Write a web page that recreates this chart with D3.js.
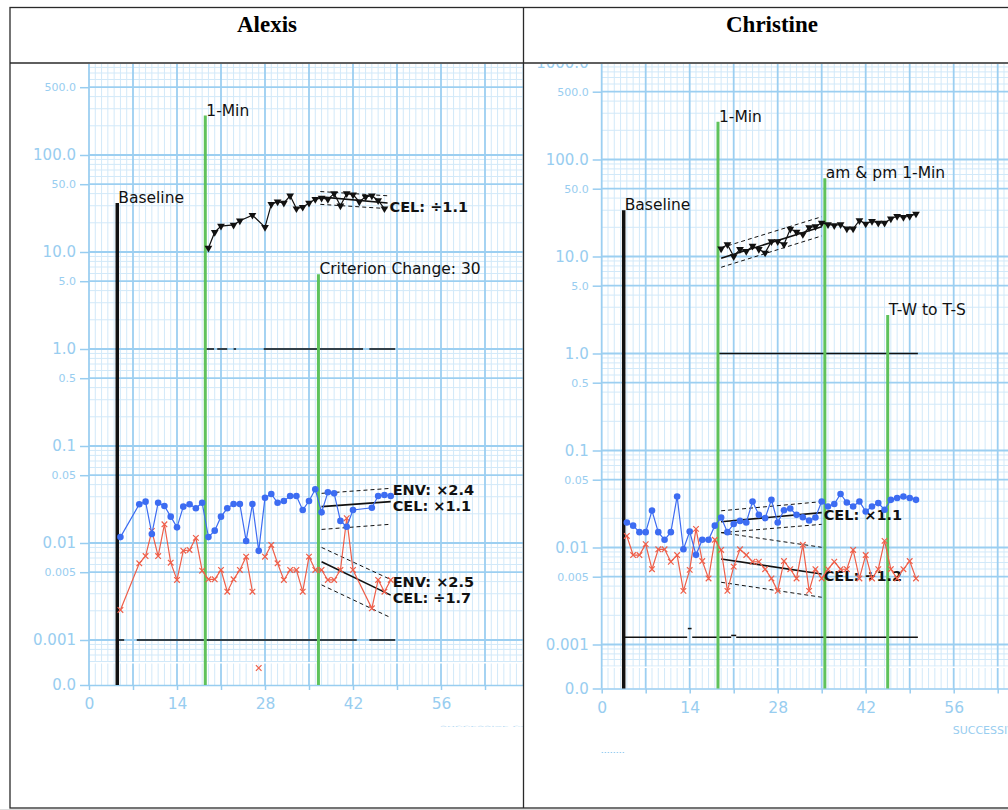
<!DOCTYPE html>
<html><head><meta charset="utf-8">
<script src="https://cdn.jsdelivr.net/npm/d3@7"></script>
<style>body{margin:0;background:#fff}svg{display:block}</style>
</head><body><svg id="c" width="1008" height="810"></svg>
<script>
// ---------------- DATA ----------------
const names = ["Alexis", "Christine"];

const yMajorTicks = [1000, 100, 10, 1, 0.1, 0.01, 0.001];
const yMajorTickLabels = ["1000.0", "100.0", "10.0", "1.0", "0.1", "0.01", "0.001"];
const yHalfTicks = [500, 50, 5, 0.5, 0.05, 0.005];
const yHalfTickLabels = ["500.0", "50.0", "5.0", "0.5", "0.05", "0.005"];
const xTickLabels = [0, 14, 28, 42, 56];
const xAxisTitle = "SUCCESSIVE CALENDAR DAYS";

// Alexis
const alexisPhaseDays = [4.5, 18.5, 36.5];
const alexisPhaseTops = [32, 255, 5.9];
const alexisPhaseLabels = ["Baseline", "1-Min", "Criterion Change: 30"];

const alexisFreqDays = [19,20,21,23,24,26,28,29,30,31,32,33,34,35,36,37,38,39,40,41,42,43,44,45,46,47];
const alexisFreq = [11,16,18.5,19,21,24,18,31,33,32,38,28,29,32,35,36,35,40,30,40,39,33,37,38,34,28];

const alexisDays = [5,8,9,10,11,12,13,14,15,16,17,18,19,20,21,22,23,24,25,26,27,28,29,30,31,32,33,34,35,36,37,38,39,40,41,42,45,46,47,48];
const alexisCorrect = [0.0115,0.0251,0.0267,0.0124,0.0260,0.0241,0.0187,0.0145,0.0237,0.0251,0.0228,0.0260,0.0115,0.0134,0.0187,0.0228,0.0252,0.0252,0.0105,0.0252,0.0083,0.0293,0.0320,0.0260,0.0271,0.0305,0.0305,0.0219,0.0271,0.0358,0.0207,0.0333,0.0325,0.0169,0.0147,0.0219,0.0231,0.0305,0.0313,0.0305];
const alexisErrors = [0.00204,0.00618,0.00734,0.0133,0.00734,0.0156,0.00627,0.00416,0.00833,0.00847,0.0113,0.00518,0.00422,0.00422,0.00527,0.00315,0.00422,0.00527,0.00722,0.00315,0,0.00722,0.00954,0.00618,0.00416,0.00527,0.00527,0.00315,0.00722,0.00527,0.00527,0.00416,0.00416,0.00527,0.0180,0.00527,0.00212,0.00416,0.00315,0.00416];

// record floors: [fromDay, toDay, value]
const alexisFloors = [[18.6,19.9,1],[20.4,22.0,1],[23.0,23.4,1],[27.8,43.6,1],[44.6,48.7,1],
                      [4.6,5.6,0.001],[7.6,42.6,0.001],[44.6,48.7,0.001]];

// celeration lines: days, middle, upper and lower envelope values
const alexisCelDays = [[36.8,47.5],[37,48],[37,48]];
const alexisCelMid = [[37,32],[0.0237,0.0267],[0.0064,0.0029]];
const alexisCelUpper = [[42,38],[0.0325,0.0366],[0.0090,0.0042]];
const alexisCelLower = [[31,28],[0.0138,0.0156],[0.0037,0.0017]];
const alexisCelLabels = [["CEL: ÷1.1"],["ENV: ×2.4","CEL: ×1.1"],["ENV: ×2.5","CEL: ÷1.7"]];
const alexisCelLabelVals = [[29.1],[0.0352,0.0243],[0.00398,0.00272]];

// Christine
const christinePhaseDays = [3.5, 18.5, 35.5, 45.5];
const christinePhaseTops = [30, 245, 64, 2.5];
const christinePhaseLabels = ["Baseline", "1-Min", "am & pm 1-Min", "T-W to T-S"];

const christineFreqDays = d3.range(19, 51);
const christineFreq = [12.0,13.3,10.0,11.9,11.3,12.8,11.9,10.9,14.3,14.3,13.3,19.2,17.9,16.9,19.9,20.4,22.2,21.4,20.9,21.4,19.3,19.3,23.5,21.7,23.1,22.2,22.2,24.5,26.0,25.4,26.0,27.5];

const christineDays = d3.range(4, 51);
const christineCorrect = [0.0181,0.0168,0.0144,0.0144,0.0240,0.0144,0.0120,0.0144,0.0336,0.0096,0.0146,0.0084,0.0120,0.0120,0.0168,0.0204,0.0144,0.0175,0.0188,0.0181,0.0298,0.0217,0.0201,0.0310,0.0181,0.0242,0.0252,0.0217,0.0205,0.0190,0.0204,0.0298,0.0265,0.0281,0.0356,0.0291,0.0265,0.0298,0.0235,0.0265,0.0287,0.0245,0.0310,0.0324,0.0336,0.0324,0.0310];
const christineErrors = [0.01315,0.00836,0.00836,0.01083,0.00597,0.00958,0.00958,0.00713,0.00836,0.00357,0.00588,0.01556,0.00725,0.0048,0.0120,0.00943,0.00357,0.00635,0.00958,0.00836,0.00713,0.00713,0.00597,0.0048,0.00357,0.00725,0.00597,0.0048,0.01066,0.00357,0.00597,0.0048,0.00597,0.00713,0.00597,0.00597,0.00943,0.0048,0.00836,0.0048,0.00597,0.0117,0.00597,0.0048,0.00597,0.00725,0.0048];

const christineFloors = [[18.5,50.3,1],[3.5,13.6,0.00119],[13.7,14.3,0.00146],[14.4,20.6,0.00119],[20.6,21.4,0.00124],[21.4,50.3,0.00119]];

const christineCelDays = [[19,35],[19,35],[19,35]];
const christineCelMid = [[9.6,20.3],[0.01845,0.02286],[0.0076,0.00533]];
const christineCelUpper = [[12.3,25.7],[0.0239,0.0297],[0.01422,0.01005]];
const christineCelLower = [[7.74,16.3],[0.01422,0.01734],[0.00438,0.00307]];
const christineCelLabels = [[],["CEL: ×1.1"],["CEL: ÷1.2"]];
const christineCelLabelVals = [[],[0.0216],[0.00508]];

// ---------------- LAYOUT / STYLE ----------------
const PPD = 88 / 14, DEC = 97;
const C = {
  gridMajor: "#9ccff1", gridMinor: "#d2e9f9", tick: "#98cdf0",
  blue: "#3c6cf2", red: "#ee5f4a", green: "#5fc25b", ink: "#111"
};
const FONT = "'DejaVu Sans', sans-serif";

const charts = [
  { clip: [11, 64, 512, 743], x0: 89, y10: 252, axisY: 685, titleX: 267,
    phaseDays: alexisPhaseDays, phaseTops: alexisPhaseTops, phaseLabels: alexisPhaseLabels,
    freqDays: alexisFreqDays, freq: alexisFreq, days: alexisDays, correct: alexisCorrect, errors: alexisErrors,
    floors: alexisFloors, celDays: alexisCelDays, celMid: alexisCelMid, celUp: alexisCelUpper, celLo: alexisCelLower,
    celLabels: alexisCelLabels, celLabelVals: alexisCelLabelVals, squashTitle: true },
  { clip: [524, 64, 496, 743], x0: 601.7, y10: 256.5, axisY: 688.5, titleX: 772,
    phaseDays: christinePhaseDays, phaseTops: christinePhaseTops, phaseLabels: christinePhaseLabels,
    freqDays: christineFreqDays, freq: christineFreq, days: christineDays, correct: christineCorrect, errors: christineErrors,
    floors: christineFloors, celDays: christineCelDays, celMid: christineCelMid, celUp: christineCelUpper, celLo: christineCelLower,
    celLabels: christineCelLabels, celLabelVals: christineCelLabelVals, squashTitle: false }
];

const svg = d3.select("#c");
const defs = svg.append("defs");
svg.append("rect").attr("width", 1008).attr("height", 810).attr("fill", "#fff");

function drawChart(c, idx) {
  const clipId = "clip" + idx;
  defs.append("clipPath").attr("id", clipId).append("rect")
    .attr("x", c.clip[0]).attr("y", c.clip[1]).attr("width", c.clip[2]).attr("height", c.clip[3]);
  const g = svg.append("g").attr("clip-path", `url(#${clipId})`);

  const x = d3.scaleLinear().domain([0, 70]).range([c.x0, c.x0 + 70 * PPD]);
  const y = d3.scaleLog().domain([0.001, 10]).range([c.y10 + 4 * DEC, c.y10]);
  const yTop = y(1000), yBot = y(0.0006);
  const zeroY = c.axisY - 17;
  const yv = v => v > 0 ? y(v) : zeroY;

  // grid
  const hv = [];
  for (let k = -4; k <= 3; k++) for (let m = 1; m <= 9; m++) {
    const v = +(m * Math.pow(10, k)).toPrecision(3);
    if (v >= 0.0006 - 1e-12 && v <= 1000 + 1e-9) hv.push({ v, major: m === 1 || m === 5 });
  }
  const days = d3.range(0, 71);
  const grid = g.append("g");
  grid.selectAll(".vmin").data(days.filter(d => d % 7)).join("line")
    .attr("x1", d => x(d)).attr("x2", d => x(d)).attr("y1", yTop).attr("y2", c.axisY)
    .attr("stroke", C.gridMinor).attr("stroke-width", 1);
  grid.selectAll(".hmin").data(hv.filter(h => !h.major)).join("line")
    .attr("x1", x(0)).attr("x2", x(70)).attr("y1", h => y(h.v)).attr("y2", h => y(h.v))
    .attr("stroke", C.gridMinor).attr("stroke-width", 1);
  grid.selectAll(".hmaj").data(hv.filter(h => h.major)).join("line")
    .attr("x1", x(0)).attr("x2", x(70)).attr("y1", h => y(h.v)).attr("y2", h => y(h.v))
    .attr("stroke", C.gridMajor).attr("stroke-width", 1.8);
  grid.selectAll(".vmaj").data(days.filter(d => d % 7 === 0)).join("line")
    .attr("x1", d => x(d)).attr("x2", d => x(d)).attr("y1", yTop).attr("y2", c.axisY)
    .attr("stroke", C.gridMajor).attr("stroke-width", 1.8);
  grid.append("rect").attr("x", x(0) + 1).attr("y", yBot + 0.5).attr("width", 70 * PPD).attr("height", 1.5).attr("fill", "#fff");

  const styleAxis = (s, size) => {
    s.select(".domain").attr("stroke", C.tick).attr("stroke-width", 1.5);
    s.selectAll(".tick line").attr("stroke", C.tick).attr("stroke-width", 1.5);
    s.selectAll("text").attr("fill", C.tick).style("font-family", FONT).style("font-size", size + "px");
  };

  // y axes
  g.append("g").attr("transform", `translate(${x(0)},0)`)
    .call(d3.axisLeft(y).tickValues(yMajorTicks).tickFormat((d, i) => yMajorTickLabels[i]).tickSize(9).tickPadding(4))
    .call(s => { s.select(".domain").remove(); styleAxis(s, 15); });
  g.append("g").attr("transform", `translate(${x(0)},0)`)
    .call(d3.axisLeft(y).tickValues(yHalfTicks).tickFormat((d, i) => yHalfTickLabels[i]).tickSize(9).tickPadding(4))
    .call(s => { s.select(".domain").remove(); styleAxis(s, 11); });
  const zeroScale = d3.scaleOrdinal().domain(["0.0"]).range([c.axisY]);
  g.append("g").attr("transform", `translate(${x(0)},0)`)
    .call(d3.axisLeft(zeroScale).tickSize(9).tickPadding(4))
    .call(s => { s.select(".domain").remove(); styleAxis(s, 15); });

  // x axis
  g.append("g").attr("transform", `translate(0,${c.axisY})`)
    .call(d3.axisBottom(x).tickValues(d3.range(0, 71, 7))
      .tickFormat(d => xTickLabels.includes(d) ? d : "").tickSize(5).tickSizeOuter(0).tickPadding(8))
    .call(s => styleAxis(s, 15.5));

  // axis title (clipped by the table cell, as in the original)
  const tt = g.append("text").attr("x", x(56) - 1).attr("y", c.axisY + 45)
    .attr("fill", C.tick).style("font-family", FONT).style("font-size", "11px").text(xAxisTitle);
  if (c.squashTitle) {
    tt.attr("y", 0).attr("transform", `translate(0,${c.axisY + 42}) scale(1,0.14)`).attr("opacity", 0.8);
  } else {
    g.append("line").attr("x1", x(0)).attr("x2", x(3.7)).attr("y1", c.axisY + 64).attr("y2", c.axisY + 64)
      .attr("stroke", C.tick).attr("stroke-width", 1).attr("stroke-dasharray", "1.5,1.5");
  }

  // record floors
  g.append("g").selectAll("line").data(c.floors).join("line")
    .attr("x1", d => x(d[0])).attr("x2", d => x(d[1])).attr("y1", d => y(d[2])).attr("y2", d => y(d[2]))
    .attr("stroke", C.ink).attr("stroke-width", 1.5);

  // phase lines
  const ph = g.append("g");
  c.phaseDays.forEach((d, i) => {
    ph.append("line").attr("x1", x(d)).attr("x2", x(d)).attr("y1", y(c.phaseTops[i])).attr("y2", c.axisY)
      .attr("stroke", i === 0 ? C.ink : C.green).attr("stroke-width", i === 0 ? 3.5 : 3);
    ph.append("text").attr("x", x(d) + 1).attr("y", y(c.phaseTops[i]))
      .attr("fill", C.ink).style("font-family", FONT).style("font-size", "15.5px").text(c.phaseLabels[i]);
  });

  // celeration lines + labels
  const cel = g.append("g");
  c.celDays.forEach((dd, i) => {
    const seg = (vals, dash, w) => cel.append("line")
      .attr("x1", x(dd[0])).attr("x2", x(dd[1])).attr("y1", y(vals[0])).attr("y2", y(vals[1]))
      .attr("stroke", C.ink).attr("stroke-width", w).attr("stroke-dasharray", dash);
    seg(c.celUp[i], "4,3", 1);
    seg(c.celLo[i], "4,3", 1);
    seg(c.celMid[i], null, 1.6);
    c.celLabels[i].forEach((t, j) => {
      cel.append("text").attr("x", x(dd[1]) + 2).attr("y", y(c.celLabelVals[i][j])).attr("dy", "0.36em")
        .attr("fill", C.ink).style("font-family", FONT).style("font-size", "14.5px").style("font-weight", "bold").text(t);
    });
  });

  // data
  const line = d3.line().defined(d => d[1] > 0).x(d => x(d[0])).y(d => yv(d[1]));
  const corr = c.days.map((d, i) => [d, c.correct[i]]);
  const err = c.days.map((d, i) => [d, c.errors[i]]);
  const fr = c.freqDays.map((d, i) => [d, c.freq[i]]);

  g.append("path").datum(err).attr("d", line).attr("fill", "none").attr("stroke", C.red).attr("stroke-width", 1.2);
  g.append("g").selectAll("path").data(err).join("path")
    .attr("transform", d => `translate(${x(d[0])},${yv(d[1])})`)
    .attr("d", "M-2.8,-2.8L2.8,2.8M-2.8,2.8L2.8,-2.8").attr("stroke", C.red).attr("stroke-width", 1.2);

  g.append("path").datum(corr).attr("d", line).attr("fill", "none").attr("stroke", C.blue).attr("stroke-width", 1.2);
  g.append("g").selectAll("circle").data(corr).join("circle")
    .attr("cx", d => x(d[0])).attr("cy", d => yv(d[1])).attr("r", 3.3).attr("fill", C.blue);

  g.append("path").datum(fr).attr("d", line).attr("fill", "none").attr("stroke", C.ink).attr("stroke-width", 1.2);
  const tri = d3.symbol().type(d3.symbolTriangle).size(26);
  g.append("g").selectAll("path").data(fr).join("path")
    .attr("transform", d => `translate(${x(d[0])},${yv(d[1])}) rotate(180)`)
    .attr("d", tri).attr("fill", C.ink);

  // title
  svg.append("text").attr("x", c.titleX).attr("y", 31.5).attr("text-anchor", "middle")
    .attr("fill", "#000").style("font-family", "'Liberation Serif', 'Times New Roman', serif")
    .style("font-size", "23px").style("font-weight", "bold").text(names[idx]);
}

charts.forEach(drawChart);

// table borders
const T = svg.append("g").attr("fill", "none").attr("stroke", "#2a2a2a").attr("stroke-width", 1.3);
T.append("rect").attr("x", 10).attr("y", 7.5).attr("width", 1011).attr("height", 800.5);
T.append("line").attr("x1", 10).attr("x2", 1021).attr("y1", 63).attr("y2", 63);
T.append("line").attr("x1", 523.5).attr("x2", 523.5).attr("y1", 7.5).attr("y2", 808);
svg.append("line").attr("x1", 0).attr("x2", 1008).attr("y1", 809.5).attr("y2", 809.5).attr("stroke", "#ddd");
</script>
</body></html>
